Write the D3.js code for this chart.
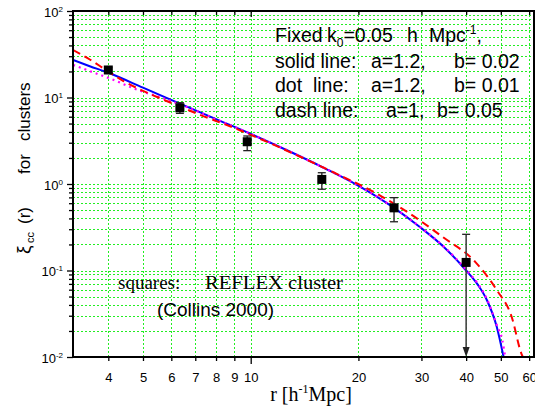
<!DOCTYPE html>
<html>
<head>
<meta charset="utf-8">
<script src="https://cdn.jsdelivr.net/npm/d3@7"></script>
<style>
  body { margin: 0; background: #fff; }
  svg { display: block; }
  text { font-family: "Liberation Sans", Arial, sans-serif; fill: #000; }
  .serif { font-family: "Liberation Serif", "Times New Roman", serif; }
</style>
</head>
<body>
<div class="chart"></div>
<script>
// observed points (REFLEX, Collins 2000)
const dataR  = [4, 6.34, 9.78, 15.8, 25.15, 40];
const dataXi = [20.8, 7.6, 3.08, 1.13, 0.53, 0.124];
const dataLo = [19.6, 6.56, 2.43, 0.87, 0.366, 0.01];
const dataHi = [22.2, 8.71, 3.59, 1.35, 0.695, 0.262];
const dataArrow = [false, false, false, false, false, true];

// solid line: a=1.2, b=0.02
const solidR  = [3.19, 3.55, 4, 5, 6.34, 8, 10, 12.9, 16, 19.8, 25.15, 29.7, 35, 40, 43, 45.7, 48.7, 50.9];
const solidXi = [27.1, 23.0, 19.3, 13.0, 8.5, 5.63, 3.8, 2.36, 1.54, 0.98, 0.53, 0.318, 0.18, 0.1, 0.0695, 0.0456, 0.0224, 0.01];
// dot line: a=1.2, b=0.01
const dotR  = [3.19, 3.67, 4.13, 4.5, 4.9, 5.58, 6.34, 8, 10, 12.9, 16, 19.8, 25.15, 29.7, 35, 40, 43, 45.7, 48.7, 50.5, 51.4];
const dotXi = [23.8, 19.2, 16.0, 13.8, 12.0, 10.1, 8.35, 5.6, 3.8, 2.36, 1.54, 0.98, 0.53, 0.32, 0.182, 0.102, 0.0715, 0.047, 0.0235, 0.0155, 0.01];
// dash line: a=1, b=0.05
const dashR  = [3.19, 3.55, 3.96, 4.41, 4.8, 5.34, 6.08, 7.22, 8.75, 10, 13.7, 17, 22.7, 25, 27.7, 34.5, 42.4, 48.7, 53.6, 57.1, 57.6];
const dashXi = [35.4, 27.5, 20.5, 15.5, 12.9, 10.6, 8.45, 6.3, 4.65, 3.7, 2.08, 1.37, 0.76, 0.6, 0.46, 0.242, 0.126, 0.0595, 0.0292, 0.0109, 0.01];

const rTicks = [4, 5, 6, 7, 8, 9, 10, 20, 30, 40, 50, 60];
const rDomain = [3.187, 61.9];
const xiDomain = [0.01, 100];

const W = 535, H = 413;
const pLeft = 73, pRight = 534, pTop = 11, pBottom = 357;

const svg = d3.select(".chart").append("svg")
    .attr("width", W)
    .attr("height", H);

const x = d3.scaleLog().domain(rDomain).range([pLeft, pRight]);
const y = d3.scaleLog().domain(xiDomain).range([pBottom, pTop]);

svg.append("defs").append("clipPath").attr("id", "plot")
    .append("rect")
    .attr("x", pLeft).attr("y", pTop)
    .attr("width", pRight - pLeft).attr("height", pBottom - pTop);

// grid
const grid = svg.append("g")
    .attr("stroke", "#22ee22")
    .attr("stroke-width", 1)
    .attr("stroke-dasharray", "2,2");
grid.selectAll(".gx")
    .data(rTicks)
    .enter().append("line")
    .attr("x1", d => Math.round(x(d)) + 0.5)
    .attr("x2", d => Math.round(x(d)) + 0.5)
    .attr("y1", pTop)
    .attr("y2", pBottom);
grid.selectAll(".gy")
    .data(y.ticks().filter(d => d > xiDomain[0] && d < xiDomain[1]))
    .enter().append("line")
    .attr("x1", pLeft)
    .attr("x2", pRight)
    .attr("y1", d => Math.round(y(d)) + 0.5)
    .attr("y2", d => Math.round(y(d)) + 0.5);

// curves
const line = d3.line()
    .x(d => x(d[0]))
    .y(d => y(d[1]))
    .curve(d3.curveMonotoneX);

const curves = svg.append("g").attr("clip-path", "url(#plot)").attr("fill", "none");
curves.append("path")
    .attr("d", line(d3.zip(solidR, solidXi)))
    .attr("stroke", "#0000ff")
    .attr("stroke-width", 2);
curves.append("path")
    .attr("d", line(d3.zip(dotR, dotXi)))
    .attr("stroke", "#ff00ff")
    .attr("stroke-width", 2.2)
    .attr("stroke-dasharray", "2,4");
curves.append("path")
    .attr("d", line(d3.zip(dashR, dashXi)))
    .attr("stroke", "#ff0000")
    .attr("stroke-width", 2)
    .attr("stroke-dasharray", "8,5");

// error bars and squares
const pts = svg.append("g");
const idx = d3.range(dataR.length);
pts.selectAll(".eb")
    .data(idx)
    .enter().append("line")
    .attr("x1", i => x(dataR[i]))
    .attr("x2", i => x(dataR[i]))
    .attr("y1", i => y(dataHi[i]))
    .attr("y2", i => dataArrow[i] ? y(dataLo[i]) - 6 : y(dataLo[i]))
    .attr("stroke", "#444")
    .attr("stroke-width", 1.6);
pts.selectAll(".capHi")
    .data(idx)
    .enter().append("line")
    .attr("x1", i => x(dataR[i]) - 4)
    .attr("x2", i => x(dataR[i]) + 4)
    .attr("y1", i => y(dataHi[i]))
    .attr("y2", i => y(dataHi[i]))
    .attr("stroke", "#222")
    .attr("stroke-width", 1.3);
pts.selectAll(".capLo")
    .data(idx.filter(i => !dataArrow[i]))
    .enter().append("line")
    .attr("x1", i => x(dataR[i]) - 4)
    .attr("x2", i => x(dataR[i]) + 4)
    .attr("y1", i => y(dataLo[i]))
    .attr("y2", i => y(dataLo[i]))
    .attr("stroke", "#222")
    .attr("stroke-width", 1.3);
pts.selectAll(".arrow")
    .data(idx.filter(i => dataArrow[i]))
    .enter().append("path")
    .attr("d", i => {
        const cx = x(dataR[i]), cy = y(dataLo[i]);
        return `M${cx - 3.5},${cy - 10}L${cx + 3.5},${cy - 10}L${cx},${cy}Z`;
    })
    .attr("fill", "#222");
pts.selectAll(".sq")
    .data(idx)
    .enter().append("rect")
    .attr("x", i => x(dataR[i]) - 4.5)
    .attr("y", i => y(dataXi[i]) - 4.5)
    .attr("width", 9)
    .attr("height", 9)
    .attr("fill", "#000");

// axes
const xAxis = svg.append("g")
    .attr("transform", `translate(0,${pBottom})`)
    .call(d3.axisBottom(x).tickValues(rTicks).tickSize(4).tickPadding(12).tickFormat(d3.format("d")));
xAxis.select(".domain").remove();
xAxis.selectAll(".tick line").attr("stroke-width", 1.3).attr("y2", d => d === 10 ? 7 : 4);
xAxis.selectAll(".tick text").attr("font-size", 13).attr("font-family", null);

const xTop = svg.append("g")
    .attr("transform", `translate(0,${pTop})`)
    .call(d3.axisBottom(x).tickValues(rTicks).tickSize(4).tickFormat(""));
xTop.select(".domain").remove();
xTop.selectAll(".tick line").attr("stroke-width", 1.3).attr("y2", d => d === 10 ? 6 : 4);

const majors = [0.01, 0.1, 1, 10, 100];
const yAxis = svg.append("g")
    .attr("transform", `translate(${pLeft},0)`)
    .call(d3.axisLeft(y).tickValues(y.ticks()).tickSize(4).tickPadding(6).tickFormat(""));
yAxis.select(".domain").remove();
yAxis.selectAll(".tick line")
    .attr("stroke-width", 1.3)
    .attr("x2", d => majors.includes(d) ? -6 : -4);
yAxis.selectAll(".tick text")
    .filter(d => majors.includes(d))
    .attr("font-size", 13)
    .attr("font-family", null)
    .attr("dy", "0.42em")
    .each(function(d) {
        const t = d3.select(this);
        t.append("tspan").text("10");
        t.append("tspan")
            .attr("font-size", 8)
            .attr("dy", -5)
            .text(Math.round(Math.log10(d)));
    });

// frame
svg.append("rect")
    .attr("x", pLeft).attr("y", pTop)
    .attr("width", pRight - pLeft).attr("height", pBottom - pTop)
    .attr("fill", "none")
    .attr("stroke", "#000")
    .attr("stroke-width", 2);

// axis titles
const xTitle = svg.append("text")
    .attr("class", "serif")
    .attr("x", 311)
    .attr("y", 401)
    .attr("text-anchor", "middle")
    .attr("font-size", 20);
xTitle.append("tspan").text("r [h");
xTitle.append("tspan").attr("font-size", 12).attr("dy", -8).text("-1");
xTitle.append("tspan").attr("dy", 8).text("Mpc]");

const yTitle = svg.append("text")
    .attr("transform", "rotate(-90)")
    .attr("y", 30)
    .attr("font-size", 17);
yTitle.append("tspan").attr("x", -254).attr("font-size", 19).text("ξ");
yTitle.append("tspan").attr("x", -243).attr("font-size", 11).attr("dy", 4).text("cc");
yTitle.append("tspan").attr("x", -224).attr("dy", -4).text("(r)");
yTitle.append("tspan").attr("x", -174).text("for");
yTitle.append("tspan").attr("x", -141).text("clusters");

// legend text
const legend = svg.append("g").attr("font-size", 19.5);
const l1 = legend.append("text").attr("y", 41.5);
l1.append("tspan").attr("x", 275).text("Fixed");
l1.append("tspan").attr("x", 327).text("k");
l1.append("tspan").attr("font-size", 12).attr("dy", 5).text("0");
l1.append("tspan").attr("dy", -5).text("=0.05");
l1.append("tspan").attr("x", 407).text("h");
l1.append("tspan").attr("x", 429).text("Mpc");
l1.append("tspan").attr("font-size", 12).attr("dy", -8).text("-1");
l1.append("tspan").attr("dy", 8).text(",");

const legendRows = [
    ["solid line:", "a=1.2,", 371, "b= 0.02", 454],
    ["dot  line:", "a=1.2,", 371, "b= 0.01", 454],
    ["dash line:", "a=1,", 386, "b= 0.05", 437]
];
legendRows.forEach((row, i) => {
    const t = legend.append("text").attr("y", 67.5 + i * 24.5).attr("xml:space", "preserve");
    t.append("tspan").attr("x", 275).text(row[0]);
    t.append("tspan").attr("x", row[2]).text(row[1]);
    t.append("tspan").attr("x", row[4]).text(row[3]);
});

// source note
svg.append("text")
    .attr("class", "serif")
    .attr("x", 118)
    .attr("y", 289)
    .attr("font-size", 19)
    .text("squares:");
svg.append("text")
    .attr("class", "serif")
    .attr("x", 205)
    .attr("y", 289)
    .attr("font-size", 19.5)
    .attr("textLength", 138)
    .attr("lengthAdjust", "spacingAndGlyphs")
    .text("REFLEX cluster");
svg.append("text")
    .attr("x", 157)
    .attr("y", 316)
    .attr("font-size", 18)
    .attr("textLength", 117)
    .attr("lengthAdjust", "spacingAndGlyphs")
    .text("(Collins 2000)");
</script>
</body>
</html>
